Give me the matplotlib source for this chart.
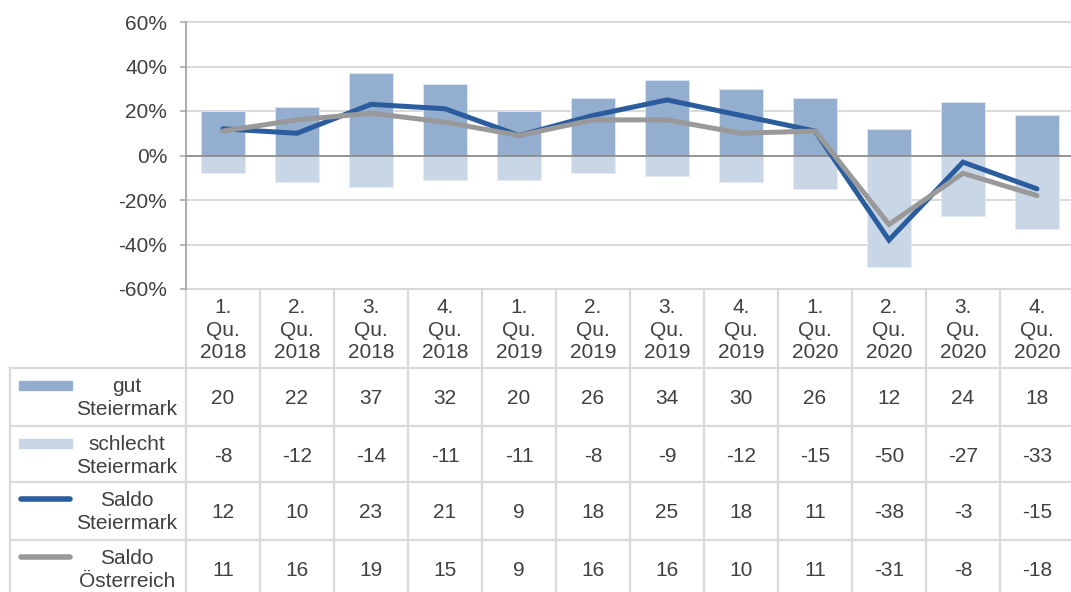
import matplotlib
matplotlib.use("Agg")
import matplotlib.pyplot as plt
from matplotlib.patches import Rectangle
from matplotlib.lines import Line2D

plt.rcParams['font.family'] = ['Liberation Sans', 'DejaVu Sans']

quarters = ["1.\nQu.\n2018", "2.\nQu.\n2018", "3.\nQu.\n2018", "4.\nQu.\n2018",
            "1.\nQu.\n2019", "2.\nQu.\n2019", "3.\nQu.\n2019", "4.\nQu.\n2019",
            "1.\nQu.\n2020", "2.\nQu.\n2020", "3.\nQu.\n2020", "4.\nQu.\n2020"]
gut_stmk = [20, 22, 37, 32, 20, 26, 34, 30, 26, 12, 24, 18]
schlecht_stmk = [-8, -12, -14, -11, -11, -8, -9, -12, -15, -50, -27, -33]
saldo_stmk = [12, 10, 23, 21, 9, 18, 25, 18, 11, -38, -3, -15]
saldo_oe = [11, 16, 19, 15, 9, 16, 16, 10, 11, -31, -8, -18]
row_labels = ["gut\nSteiermark", "schlecht\nSteiermark", "Saldo\nSteiermark", "Saldo\nÖsterreich"]
yticks = [-60, -40, -20, 0, 20, 40, 60]

c_gut = '#93AECE'
c_schlecht = '#C9D6E6'
c_blue = '#2A5C9E'
c_grey = '#999999'
c_text = '#404040'
c_grid = '#D9D9D9'

W, H = 1071, 592
fig = plt.figure(figsize=(W / 100, H / 100), dpi=100)
colw = 74
ax = fig.add_axes([186 / W, (H - 289) / H, 12 * colw / W, 267 / H])

x = list(range(len(quarters)))
ax.bar(x, gut_stmk, width=0.6, color=c_gut, edgecolor='#dfe7f1', linewidth=0.6, zorder=2)
ax.bar(x, schlecht_stmk, width=0.6, color=c_schlecht, edgecolor='#e6ecf4', linewidth=0.6, zorder=2)
ax.plot(x, saldo_stmk, color=c_blue, lw=3.6, solid_capstyle='round', solid_joinstyle='miter', zorder=4)
ax.plot(x, saldo_oe, color=c_grey, lw=3.6, solid_capstyle='round', solid_joinstyle='miter', zorder=5)

ax.set_xlim(-0.5, 11.5)
ax.set_ylim(-60, 60)
ax.set_yticks(yticks)
ax.set_yticklabels([f"{v}%" for v in yticks])
ax.set_xticks([])
for v in yticks:
    if v == 0:
        ax.axhline(v, color='#8C8C8C', lw=1.3, zorder=3)
    else:
        ax.axhline(v, color=c_grid, lw=1.4, zorder=1, clip_on=False)
for s in ['top', 'right', 'bottom']:
    ax.spines[s].set_visible(False)
ax.spines['left'].set_color('#A6A6A6')
ax.spines['left'].set_linewidth(1.3)
ax.tick_params(axis='y', direction='out', length=4.5, width=1.1, color='#A6A6A6',
               labelcolor=c_text, labelsize=15, pad=9)

# table below the plot, in x data / y axes-fraction coordinates
tr = ax.get_xaxis_transform()
px = lambda p: (p - 186) / colw - 0.5       # pixel x -> data x
py = lambda p: (289 - p) / 267              # pixel y -> axes fraction
left = px(10)
row_edges = [368, 426, 482, 540, 598]

for i in range(13):
    ax.add_line(Line2D([i - 0.5, i - 0.5], [py(289), py(600)], transform=tr,
                       color=c_grid, lw=1.6, clip_on=False))
ax.add_line(Line2D([left, left], [py(368), py(600)], transform=tr,
                   color=c_grid, lw=1.6, clip_on=False))
for e in row_edges[:-1]:
    ax.add_line(Line2D([left, 11.5], [py(e), py(e)], transform=tr,
                       color=c_grid, lw=1.6, clip_on=False))

for i, q in enumerate(quarters):
    ax.text(i, py(330), q, transform=tr, ha='center', va='center', fontsize=15,
            color=c_text, linespacing=1.22, clip_on=False)

series = [gut_stmk, schlecht_stmk, saldo_stmk, saldo_oe]
for r, (lab, vals) in enumerate(zip(row_labels, series)):
    top, bot = row_edges[r], row_edges[r + 1]
    ax.text(px(127), py(top + 30), lab, transform=tr, ha='center', va='center',
            fontsize=15, color=c_text, linespacing=1.22, multialignment='center', clip_on=False)
    sy = top + 17
    if r < 2:
        ax.add_patch(Rectangle((px(19), py(sy + 4.5)), px(72) - px(19), 9 / 267,
                               transform=tr, color=[c_gut, c_schlecht][r], clip_on=False))
    else:
        ax.add_line(Line2D([px(21), px(70)], [py(sy), py(sy)], transform=tr,
                           color=[c_blue, c_grey][r - 2], lw=4, solid_capstyle='round',
                           clip_on=False))
    for i, v in enumerate(vals):
        ax.text(i, py(top + 30), str(v), transform=tr, ha='center', va='center',
                fontsize=15, color=c_text, clip_on=False)

fig.savefig("out.png", dpi=100)
